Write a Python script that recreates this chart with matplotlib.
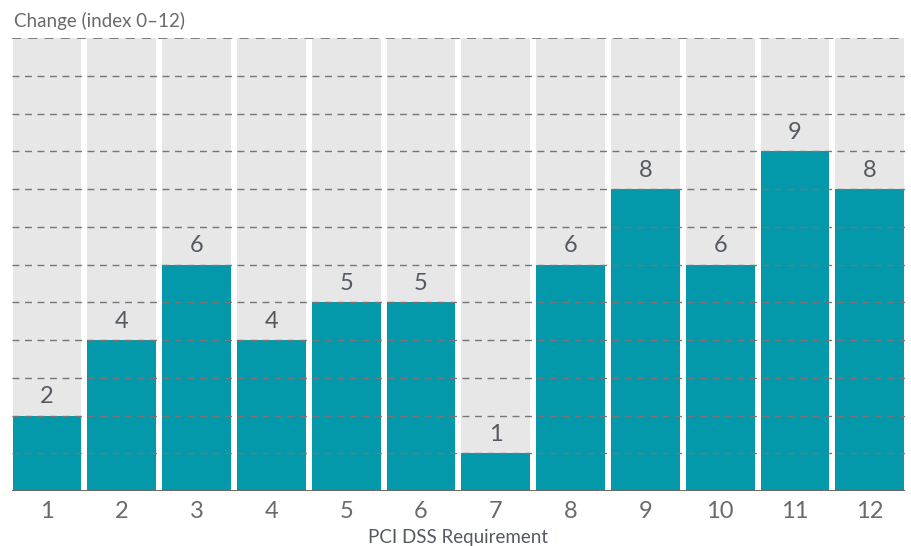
import numpy as np
import matplotlib.pyplot as plt

requirements = [1, 2, 3, 4, 5, 6, 7, 8, 9, 10, 11, 12]
change = [2, 4, 6, 4, 5, 5, 1, 6, 8, 6, 9, 8]
index_max = 12

plt.rcParams['font.family'] = ['Lato', 'DejaVu Sans']

fig = plt.figure(figsize=(9.11, 5.46), dpi=100)
ax = fig.add_axes([0.013, 0.1007, 0.9804, 0.8297])

x = np.array(requirements)
# grey background columns, full index height
ax.bar(x, [index_max] * len(x), width=0.92, color='#e7e7e7', zorder=1)
ax.bar(x, change, width=0.92, color='#0399ab', zorder=2)

# dashed guide lines drawn over the bars
for lvl in range(1, index_max + 1):
    ax.axhline(lvl, color='#767676', lw=1.0 if lvl < index_max else 1.3,
               ls=(0, (5, 4)), zorder=3)
ax.axhline(0, color='#6a6a6a', lw=2.2, zorder=4)

for xi, v in zip(x, change):
    ax.annotate(str(v), (xi, v), xytext=(0, 6), textcoords='offset points',
                ha='center', va='bottom', fontsize=17, color='#555a60')

ax.set_xlim(0.53, 12.47)
ax.set_ylim(0, index_max)
ax.set_xticks(x)
ax.set_xticklabels([str(r) for r in requirements], fontsize=17, color='#6a6a6a')
ax.tick_params(axis='x', length=0, pad=7)
ax.set_yticks([])
for s in ax.spines.values():
    s.set_visible(False)

ax.set_xlabel('PCI DSS Requirement', fontsize=13.5, color='#555a60', labelpad=5)
fig.text(0.015, 0.962, 'Change (index 0–12)', fontsize=13.5, color='#6a6a6a',
         ha='left', va='center')

fig.savefig('out.png', dpi=100)
